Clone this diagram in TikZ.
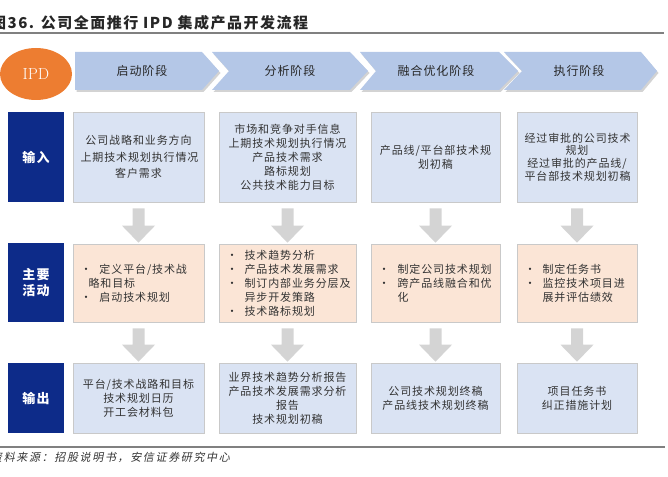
\documentclass[tikz,border=0pt]{standalone}
\usepackage{fontspec}
\newfontfamily\cjk{Noto Sans CJK SC}[LetterSpace=8]
\newfontfamily\cjkt{Noto Sans CJK SC}[LetterSpace=10]
\newfontfamily\cjkit{Noto Sans CJK SC}[LetterSpace=15,FakeSlant=0.2]
\usetikzlibrary{calc,shapes.geometric,shadows}
\definecolor{chev}{HTML}{B4C7E7}
\definecolor{boxblue}{HTML}{DAE3F3}
\definecolor{peach}{HTML}{FBE5D6}
\definecolor{boxline}{HTML}{C9C9C9}
\definecolor{navy}{HTML}{0D2B89}
\definecolor{ipdorange}{HTML}{ED7D31}
\definecolor{arrowgray}{HTML}{D4D4D4}
\definecolor{rulegray}{HTML}{808080}
\definecolor{txt}{HTML}{333333}
\newcommand\grayarrow[2]{\fill[arrowgray] let \p1=(#1.south), \p2=(#2.north) in
  (\x1-6pt,\y1-6pt) -- (\x1+6pt,\y1-6pt) -- (\x1+6pt,\y2+18pt) -- (\x1+16.5pt,\y2+18pt)
  -- (\x1,\y2+1pt) -- (\x1-16.5pt,\y2+18pt) -- (\x1-6pt,\y2+18pt) -- cycle;}
\newcommand\bul[1]{\makebox[#1][l]{•}}
\begin{document}
\begin{tikzpicture}[x=1pt,y=-1pt,
  cell/.style={draw=boxline, line width=0.6pt, inner xsep=7.5pt, inner ysep=0pt,
     text=txt, font=\cjk\fontsize{11}{14}\selectfont},
  inbox/.style={cell, fill=boxblue, align=center},
  actbox/.style={cell, fill=peach, align=left},
  lab/.style={fill=navy, text=white, minimum width=56, inner sep=0pt, align=center,
     font=\cjk\bfseries\fontsize{13}{16}\selectfont},
  chevtext/.style={inner sep=0pt, text=black!85, font=\cjk\fontsize{12}{14}\selectfont},
  chevshape/.style={fill=chev, drop shadow={shadow xshift=1.5pt, shadow yshift=-2pt, opacity=0.35}}
]
\useasboundingbox (0,0) rectangle (668,476);
% title
\node[anchor=west, inner sep=0pt, text=black!85] (title) at (-9,22.5)
  {\cjkt\bfseries\fontsize{15}{18}\selectfont 图36. 公司全面推行 IPD 集成产品开发流程};
\draw[rulegray, line width=1.2pt] (0,33) -- (664,33);
% IPD ellipse
\node[ellipse, fill=ipdorange, minimum width=72, minimum height=52, inner sep=0pt,
  text=white, font=\fontsize{16}{18}\selectfont] (ipd) at (36,74) {IPD};
% chevrons
\fill[chevshape] (75,52) -- (202,52) -- (219,71) -- (202,90) -- (75,90) -- cycle;
\fill[chevshape] (212,52) -- (350,52) -- (368,71) -- (350,90) -- (212,90) -- (229,71) -- cycle;
\fill[chevshape] (360,52) -- (499,52) -- (518,71) -- (499,90) -- (360,90) -- (376,71) -- cycle;
\fill[chevshape] (504,52) -- (641,52) -- (657,71) -- (641,90) -- (504,90) -- (522,71) -- cycle;
\node[chevtext] (c1) at (142,71) {启动阶段};
\node[chevtext] (c2) at (290,71) {分析阶段};
\node[chevtext] (c3) at (436,71) {融合优化阶段};
\node[chevtext] (c4) at (579,71) {执行阶段};
% labels
\node[lab, minimum height=90] (l1) at (36,157) {输入};
\node[lab, minimum height=79] (l2) at (36,282.5) {主要\\活动};
\node[lab, minimum height=70] (l3) at (36,398) {输出};
% input row
\node[inbox, minimum width=131, minimum height=90, text width=116pt,
  font=\cjk\fontsize{11}{16.5}\selectfont] (i1) at (138.5,157)
  {公司战略和业务方向\\上期技术规划执行情况\\客户需求};
\node[inbox, minimum width=137, minimum height=90, text width=122pt] (i2) at (287.5,157)
  {市场和竞争对手信息\\上期技术规划执行情况\\产品技术需求\\路标规划\\公共技术能力目标};
\node[inbox, minimum width=129, minimum height=90, text width=114pt] (i3) at (435.5,157)
  {产品线/平台部技术规\\划初稿};
\node[inbox, minimum width=120, minimum height=90, text width=105pt,
  font=\cjk\fontsize{11}{12.8}\selectfont] (i4) at (577,157)
  {经过审批的公司技术\\规划\\经过审批的产品线/\\平台部技术规划初稿};
% activity row
\node[actbox, minimum width=131, minimum height=78, text width=116pt] (a1) at (138.5,283)
  {\bul{19pt}定义平台/技术战\\\hspace*{8pt}略和目标\\\bul{19pt}启动技术规划};
\node[actbox, minimum width=137, minimum height=78, text width=122pt] (a2) at (287.5,283)
  {\bul{18pt}技术趋势分析\\\bul{18pt}产品技术发展需求\\\bul{18pt}制订内部业务分层及\\\hspace*{18pt}异步开发策路\\\bul{18pt}技术路标规划};
\node[actbox, minimum width=129, minimum height=78, text width=114pt] (a3) at (435.5,283)
  {\bul{19pt}制定公司技术规划\\\bul{19pt}跨产品线融合和优\\\hspace*{19pt}化};
\node[actbox, minimum width=120, minimum height=78, text width=105pt] (a4) at (577,283)
  {\bul{18pt}制定任务书\\\bul{18pt}监控技术项目进\\\hspace*{18pt}展并评估绩效};
% output row
\node[inbox, minimum width=131, minimum height=70, text width=116pt] (o1) at (138.5,398)
  {平台/技术战路和目标\\技术规划日历\\开工会材料包};
\node[inbox, minimum width=137, minimum height=70, text width=122pt] (o2) at (287.5,398)
  {业界技术趋势分析报告\\产品技术发展需求分析\\报告\\技术规划初稿};
\node[inbox, minimum width=129, minimum height=70, text width=114pt] (o3) at (435.5,398)
  {公司技术规划终稿\\产品线技术规划终稿};
\node[inbox, minimum width=120, minimum height=70, text width=105pt] (o4) at (577,398)
  {项目任务书\\纠正措施计划};
% arrows
\grayarrow{i1}{a1}\grayarrow{i2}{a2}\grayarrow{i3}{a3}\grayarrow{i4}{a4}
\grayarrow{a1}{o1}\grayarrow{a2}{o2}\grayarrow{a3}{o3}\grayarrow{a4}{o4}
% bottom rule and source
\draw[rulegray, line width=1.2pt] (0,447) -- (665,447);
\node[anchor=west, inner sep=0pt, text=black!80] (src) at (-9,457)
  {\cjkit\fontsize{11}{13}\selectfont 资料来源：招股说明书，安信证券研究中心};
\end{tikzpicture}
\end{document}
